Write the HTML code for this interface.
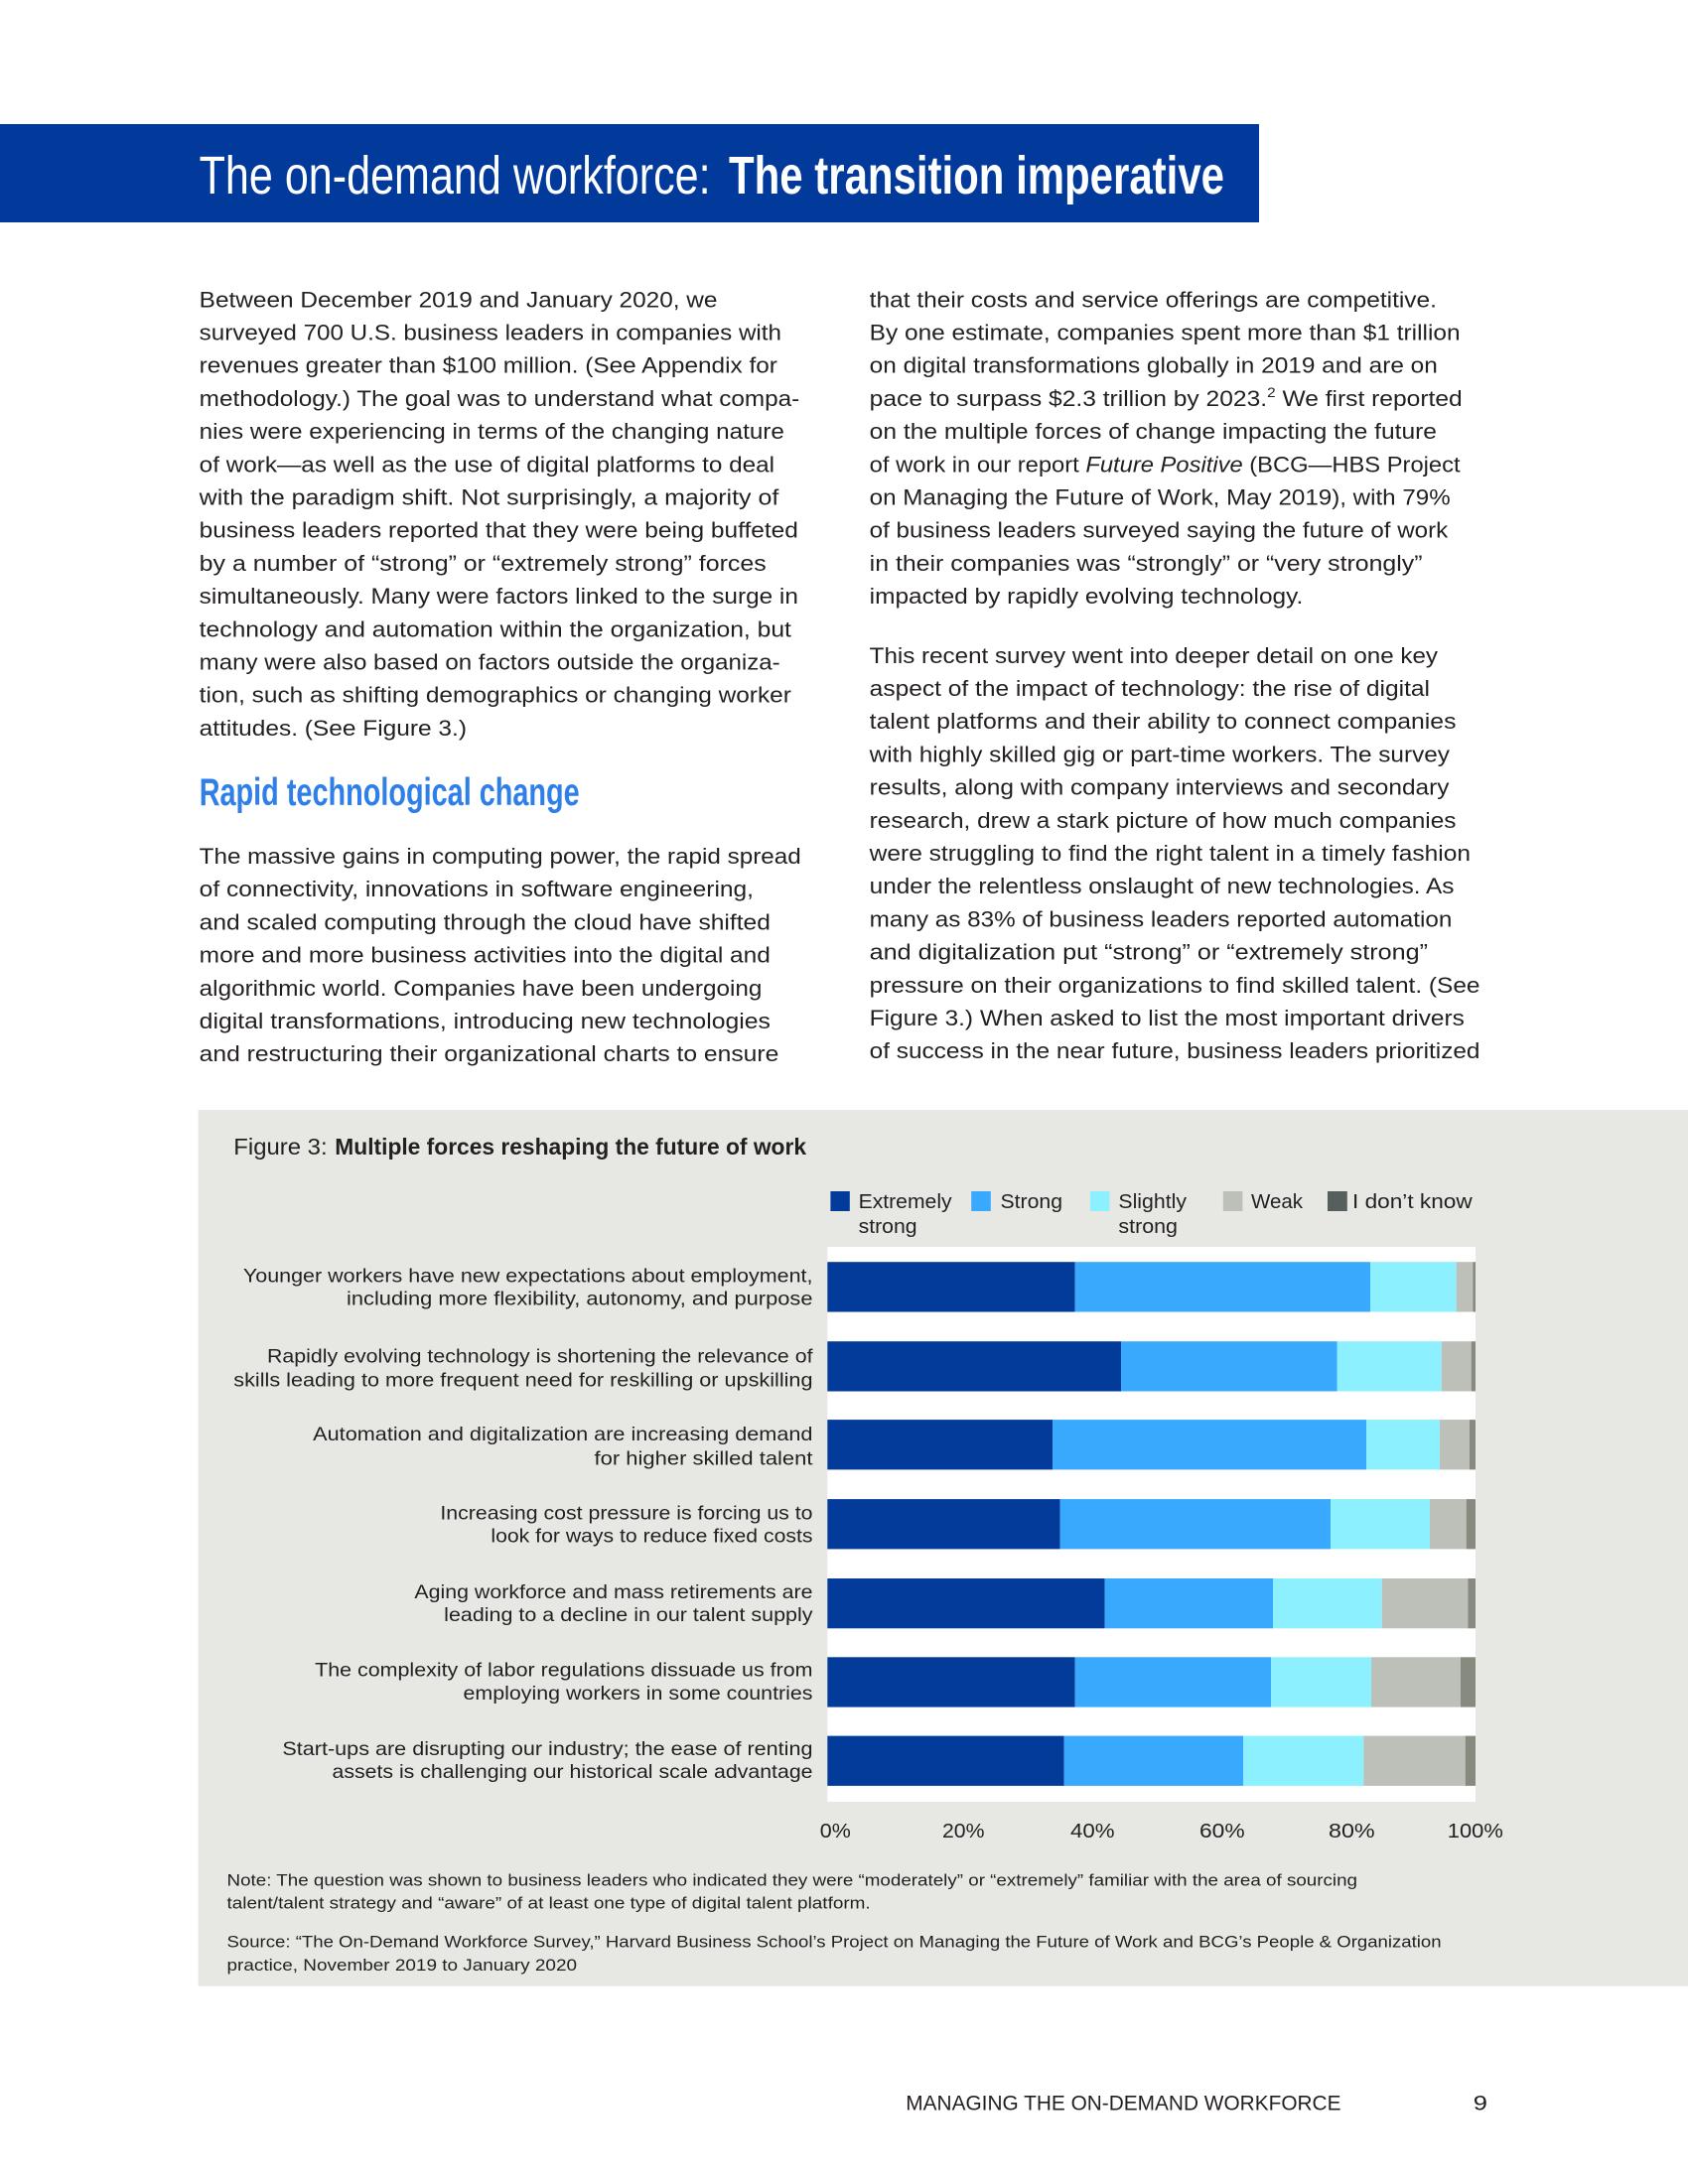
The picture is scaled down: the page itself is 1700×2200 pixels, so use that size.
<!DOCTYPE html>
<html>
<head>
<meta charset="utf-8">
<style>
html,body{margin:0;padding:0;background:#fff;}
svg{display:block;}
.b{font-family:"Liberation Sans",sans-serif;font-size:22.5px;fill:#231f20;}
.c{font-family:"Liberation Sans Narrow","Liberation Sans",sans-serif;fill:#231f20;}
</style>
</head>
<body>
<svg width="1700" height="2200" viewBox="0 0 1700 2200" xmlns="http://www.w3.org/2000/svg">
<rect x="0" y="0" width="1700" height="2200" fill="#ffffff"/>

<!-- Title band -->
<rect x="0" y="125" width="1268" height="99" fill="#023a9c"/>
<text class="c" x="200.6" y="195" font-size="54" fill="#ffffff" style="fill:#fff" textLength="515" lengthAdjust="spacingAndGlyphs">The on-demand workforce:</text>
<text class="c" x="734" y="195" font-size="54" font-weight="bold" style="fill:#fff" textLength="499" lengthAdjust="spacingAndGlyphs">The transition imperative</text>

<!-- Left column paragraph 1 -->
<g class="b">
<text x="200.7" y="309.3" textLength="521.8" lengthAdjust="spacingAndGlyphs">Between December 2019 and January 2020, we</text>
<text x="200.7" y="342.5" textLength="586.3" lengthAdjust="spacingAndGlyphs">surveyed 700 U.S. business leaders in companies with</text>
<text x="200.7" y="375.7" textLength="582.2" lengthAdjust="spacingAndGlyphs">revenues greater than $100 million. (See Appendix for</text>
<text x="200.7" y="408.9" textLength="604.6" lengthAdjust="spacingAndGlyphs">methodology.) The goal was to understand what compa-</text>
<text x="200.7" y="442.1" textLength="589.2" lengthAdjust="spacingAndGlyphs">nies were experiencing in terms of the changing nature</text>
<text x="200.7" y="475.3" textLength="579.4" lengthAdjust="spacingAndGlyphs">of work—as well as the use of digital platforms to deal</text>
<text x="200.7" y="508.5" textLength="583.6" lengthAdjust="spacingAndGlyphs">with the paradigm shift. Not surprisingly, a majority of</text>
<text x="200.7" y="541.7" textLength="603.2" lengthAdjust="spacingAndGlyphs">business leaders reported that they were being buffeted</text>
<text x="200.7" y="574.9" textLength="571" lengthAdjust="spacingAndGlyphs">by a number of “strong” or “extremely strong” forces</text>
<text x="200.7" y="608.1" textLength="603.2" lengthAdjust="spacingAndGlyphs">simultaneously. Many were factors linked to the surge in</text>
<text x="200.7" y="641.3" textLength="596.2" lengthAdjust="spacingAndGlyphs">technology and automation within the organization, but</text>
<text x="200.7" y="674.5" textLength="585" lengthAdjust="spacingAndGlyphs">many were also based on factors outside the organiza-</text>
<text x="200.7" y="707.7" textLength="596.2" lengthAdjust="spacingAndGlyphs">tion, such as shifting demographics or changing worker</text>
<text x="200.7" y="740.9" textLength="269.3" lengthAdjust="spacingAndGlyphs">attitudes. (See Figure 3.)</text>
</g>

<!-- Heading -->
<text class="c" x="200.7" y="811" font-size="38.5" font-weight="bold" style="fill:#2f7fe8" textLength="383" lengthAdjust="spacingAndGlyphs">Rapid technological change</text>

<!-- Left column paragraph 2 -->
<g class="b">
<text x="200.7" y="870" textLength="606" lengthAdjust="spacingAndGlyphs">The massive gains in computing power, the rapid spread</text>
<text x="200.7" y="903.2" textLength="558.3" lengthAdjust="spacingAndGlyphs">of connectivity, innovations in software engineering,</text>
<text x="200.7" y="936.4" textLength="575.2" lengthAdjust="spacingAndGlyphs">and scaled computing through the cloud have shifted</text>
<text x="200.7" y="969.6" textLength="575.2" lengthAdjust="spacingAndGlyphs">more and more business activities into the digital and</text>
<text x="200.7" y="1002.8" textLength="566.7" lengthAdjust="spacingAndGlyphs">algorithmic world. Companies have been undergoing</text>
<text x="200.7" y="1036" textLength="575.2" lengthAdjust="spacingAndGlyphs">digital transformations, introducing new technologies</text>
<text x="200.7" y="1069.2" textLength="583.6" lengthAdjust="spacingAndGlyphs">and restructuring their organizational charts to ensure</text>
</g>

<!-- Right column paragraph 1 -->
<g class="b">
<text x="875.7" y="309.3" textLength="571.3" lengthAdjust="spacingAndGlyphs">that their costs and service offerings are competitive.</text>
<text x="875.7" y="342.5" textLength="594.9" lengthAdjust="spacingAndGlyphs">By one estimate, companies spent more than $1 trillion</text>
<text x="875.7" y="375.7" textLength="572.1" lengthAdjust="spacingAndGlyphs">on digital transformations globally in 2019 and are on</text>
<text x="875.7" y="408.9" textLength="597" lengthAdjust="spacingAndGlyphs">pace to surpass $2.3 trillion by 2023.<tspan font-size="14" dy="-9">2</tspan><tspan dy="9"> We first reported</tspan></text>
<text x="875.7" y="442.1" textLength="571.3" lengthAdjust="spacingAndGlyphs">on the multiple forces of change impacting the future</text>
<text x="875.7" y="475.3" textLength="594.9" lengthAdjust="spacingAndGlyphs">of work in our report <tspan font-style="italic">Future Positive</tspan> (BCG—HBS Project</text>
<text x="875.7" y="508.5" textLength="585" lengthAdjust="spacingAndGlyphs">on Managing the Future of Work, May 2019), with 79%</text>
<text x="875.7" y="541.7" textLength="582.5" lengthAdjust="spacingAndGlyphs">of business leaders surveyed saying the future of work</text>
<text x="875.7" y="574.9" textLength="556.8" lengthAdjust="spacingAndGlyphs">in their companies was “strongly” or “very strongly”</text>
<text x="875.7" y="608.1" textLength="436.6" lengthAdjust="spacingAndGlyphs">impacted by rapidly evolving technology.</text>
</g>

<!-- Right column paragraph 2 -->
<g class="b">
<text x="875.7" y="667.8" textLength="572.3" lengthAdjust="spacingAndGlyphs">This recent survey went into deeper detail on one key</text>
<text x="875.7" y="701" textLength="564.3" lengthAdjust="spacingAndGlyphs">aspect of the impact of technology: the rise of digital</text>
<text x="875.7" y="734.2" textLength="590.8" lengthAdjust="spacingAndGlyphs">talent platforms and their ability to connect companies</text>
<text x="875.7" y="767.4" textLength="584.3" lengthAdjust="spacingAndGlyphs">with highly skilled gig or part-time workers. The survey</text>
<text x="875.7" y="800.6" textLength="583.8" lengthAdjust="spacingAndGlyphs">results, along with company interviews and secondary</text>
<text x="875.7" y="833.8" textLength="590.8" lengthAdjust="spacingAndGlyphs">research, drew a stark picture of how much companies</text>
<text x="875.7" y="867" textLength="605.3" lengthAdjust="spacingAndGlyphs">were struggling to find the right talent in a timely fashion</text>
<text x="875.7" y="900.2" textLength="588.7" lengthAdjust="spacingAndGlyphs">under the relentless onslaught of new technologies. As</text>
<text x="875.7" y="933.4" textLength="586.7" lengthAdjust="spacingAndGlyphs">many as 83% of business leaders reported automation</text>
<text x="875.7" y="966.6" textLength="562.3" lengthAdjust="spacingAndGlyphs">and digitalization put “strong” or “extremely strong”</text>
<text x="875.7" y="999.8" textLength="614.8" lengthAdjust="spacingAndGlyphs">pressure on their organizations to find skilled talent. (See</text>
<text x="875.7" y="1033" textLength="599.1" lengthAdjust="spacingAndGlyphs">Figure 3.) When asked to list the most important drivers</text>
<text x="875.7" y="1066.2" textLength="614.8" lengthAdjust="spacingAndGlyphs">of success in the near future, business leaders prioritized</text>
</g>

<!-- Figure panel -->
<rect x="199.6" y="1118" width="1500.4" height="882.7" fill="#e7e8e3"/>
<text class="c" x="235.3" y="1163" font-size="23" textLength="94.3" lengthAdjust="spacingAndGlyphs">Figure 3:</text>
<text class="c" x="337.3" y="1163" font-size="23" font-weight="bold" textLength="474.7" lengthAdjust="spacingAndGlyphs">Multiple forces reshaping the future of work</text>

<!-- Legend -->
<rect x="836.4" y="1200" width="19.4" height="20" fill="#033b9a"/>
<rect x="978.2" y="1200" width="19.6" height="20" fill="#38a9fd"/>
<rect x="1097.9" y="1200" width="19.6" height="20" fill="#8cf0fe"/>
<rect x="1231.8" y="1200" width="19.6" height="20" fill="#bcc0b8"/>
<rect x="1337" y="1200" width="19.8" height="20" fill="#565f5e"/>
<g class="c" font-size="20">
<text x="864.6" y="1217" textLength="94" lengthAdjust="spacingAndGlyphs">Extremely</text>
<text x="864.6" y="1242" textLength="59" lengthAdjust="spacingAndGlyphs">strong</text>
<text x="1007.5" y="1217" textLength="62.5" lengthAdjust="spacingAndGlyphs">Strong</text>
<text x="1126.4" y="1217" textLength="68.6" lengthAdjust="spacingAndGlyphs">Slightly</text>
<text x="1126.4" y="1242" textLength="59.6" lengthAdjust="spacingAndGlyphs">strong</text>
<text x="1260" y="1217" textLength="52" lengthAdjust="spacingAndGlyphs">Weak</text>
<text x="1362" y="1217" textLength="120.7" lengthAdjust="spacingAndGlyphs">I don’t know</text>
</g>

<!-- Plot area -->
<rect x="833.3" y="1256" width="652.7" height="559" fill="#ffffff"/>

<!-- Bars -->
<g>
<!-- bar 1 -->
<rect x="833.3" y="1271.2" width="249.4" height="50.3" fill="#033b9a"/>
<rect x="1082.7" y="1271.2" width="297.3" height="50.3" fill="#38a9fd"/>
<rect x="1380" y="1271.2" width="86.7" height="50.3" fill="#8cf0fe"/>
<rect x="1466.7" y="1271.2" width="16.6" height="50.3" fill="#bcc0b8"/>
<rect x="1483.3" y="1271.2" width="2.7" height="50.3" fill="#868a7f"/>
<!-- bar 2 -->
<rect x="833.3" y="1351.2" width="295.7" height="50.3" fill="#033b9a"/>
<rect x="1129" y="1351.2" width="217.7" height="50.3" fill="#38a9fd"/>
<rect x="1346.7" y="1351.2" width="105" height="50.3" fill="#8cf0fe"/>
<rect x="1451.7" y="1351.2" width="30" height="50.3" fill="#bcc0b8"/>
<rect x="1481.7" y="1351.2" width="4.3" height="50.3" fill="#868a7f"/>
<!-- bar 3 -->
<rect x="833.3" y="1430.1" width="226.7" height="50.3" fill="#033b9a"/>
<rect x="1060" y="1430.1" width="316" height="50.3" fill="#38a9fd"/>
<rect x="1376" y="1430.1" width="74" height="50.3" fill="#8cf0fe"/>
<rect x="1450" y="1430.1" width="30" height="50.3" fill="#bcc0b8"/>
<rect x="1480" y="1430.1" width="6" height="50.3" fill="#868a7f"/>
<!-- bar 4 -->
<rect x="833.3" y="1510.1" width="234.4" height="50.3" fill="#033b9a"/>
<rect x="1067.7" y="1510.1" width="272.3" height="50.3" fill="#38a9fd"/>
<rect x="1340" y="1510.1" width="100" height="50.3" fill="#8cf0fe"/>
<rect x="1440" y="1510.1" width="36.7" height="50.3" fill="#bcc0b8"/>
<rect x="1476.7" y="1510.1" width="9.3" height="50.3" fill="#868a7f"/>
<!-- bar 5 -->
<rect x="833.3" y="1590" width="279.4" height="50.3" fill="#033b9a"/>
<rect x="1112.7" y="1590" width="169.3" height="50.3" fill="#38a9fd"/>
<rect x="1282" y="1590" width="109.7" height="50.3" fill="#8cf0fe"/>
<rect x="1391.7" y="1590" width="86.6" height="50.3" fill="#bcc0b8"/>
<rect x="1478.3" y="1590" width="7.7" height="50.3" fill="#868a7f"/>
<!-- bar 6 -->
<rect x="833.3" y="1669.3" width="249.4" height="50.3" fill="#033b9a"/>
<rect x="1082.7" y="1669.3" width="197.3" height="50.3" fill="#38a9fd"/>
<rect x="1280" y="1669.3" width="101" height="50.3" fill="#8cf0fe"/>
<rect x="1381" y="1669.3" width="90" height="50.3" fill="#bcc0b8"/>
<rect x="1471" y="1669.3" width="15" height="50.3" fill="#868a7f"/>
<!-- bar 7 -->
<rect x="833.3" y="1748.6" width="238.4" height="50.3" fill="#033b9a"/>
<rect x="1071.7" y="1748.6" width="180.5" height="50.3" fill="#38a9fd"/>
<rect x="1252.2" y="1748.6" width="121.1" height="50.3" fill="#8cf0fe"/>
<rect x="1373.3" y="1748.6" width="102.4" height="50.3" fill="#bcc0b8"/>
<rect x="1475.7" y="1748.6" width="10.3" height="50.3" fill="#868a7f"/>
</g>

<!-- Bar labels -->
<g class="c" font-size="19.5">
<text x="244.9" y="1291.5" textLength="573.6" lengthAdjust="spacingAndGlyphs">Younger workers have new expectations about employment,</text>
<text x="349" y="1314.5" textLength="469.5" lengthAdjust="spacingAndGlyphs">including more flexibility, autonomy, and purpose</text>
<text x="269" y="1372.5" textLength="549.5" lengthAdjust="spacingAndGlyphs">Rapidly evolving technology is shortening the relevance of</text>
<text x="235.3" y="1396.5" textLength="583.2" lengthAdjust="spacingAndGlyphs">skills leading to more frequent need for reskilling or upskilling</text>
<text x="315.2" y="1451" textLength="503.3" lengthAdjust="spacingAndGlyphs">Automation and digitalization are increasing demand</text>
<text x="598.5" y="1475.5" textLength="220" lengthAdjust="spacingAndGlyphs">for higher skilled talent</text>
<text x="443.4" y="1530.5" textLength="375.1" lengthAdjust="spacingAndGlyphs">Increasing cost pressure is forcing us to</text>
<text x="494.4" y="1553.5" textLength="324.1" lengthAdjust="spacingAndGlyphs">look for ways to reduce fixed costs</text>
<text x="417.4" y="1610" textLength="401.1" lengthAdjust="spacingAndGlyphs">Aging workforce and mass retirements are</text>
<text x="447.2" y="1633" textLength="371.3" lengthAdjust="spacingAndGlyphs">leading to a decline in our talent supply</text>
<text x="317.2" y="1688.5" textLength="501.3" lengthAdjust="spacingAndGlyphs">The complexity of labor regulations dissuade us from</text>
<text x="466.5" y="1712" textLength="352" lengthAdjust="spacingAndGlyphs">employing workers in some countries</text>
<text x="284.4" y="1767.8" textLength="534.1" lengthAdjust="spacingAndGlyphs">Start-ups are disrupting our industry; the ease of renting</text>
<text x="334.5" y="1790.8" textLength="484" lengthAdjust="spacingAndGlyphs">assets is challenging our historical scale advantage</text>
</g>

<!-- Axis labels -->
<g class="c" font-size="20">
<text x="825.8" y="1851" textLength="31" lengthAdjust="spacingAndGlyphs">0%</text>
<text x="949" y="1851" textLength="42.5" lengthAdjust="spacingAndGlyphs">20%</text>
<text x="1078" y="1851" textLength="44.5" lengthAdjust="spacingAndGlyphs">40%</text>
<text x="1208" y="1851" textLength="45.6" lengthAdjust="spacingAndGlyphs">60%</text>
<text x="1338" y="1851" textLength="46.6" lengthAdjust="spacingAndGlyphs">80%</text>
<text x="1457.8" y="1851" textLength="56" lengthAdjust="spacingAndGlyphs">100%</text>
</g>

<!-- Notes -->
<g class="c" font-size="16.5">
<text x="228.5" y="1899.3" textLength="1138.5" lengthAdjust="spacingAndGlyphs">Note: The question was shown to business leaders who indicated they were “moderately” or “extremely” familiar with the area of sourcing</text>
<text x="228.5" y="1922.3" textLength="648.2" lengthAdjust="spacingAndGlyphs">talent/talent strategy and “aware” of at least one type of digital talent platform.</text>
<text x="228.5" y="1961.7" textLength="1223.1" lengthAdjust="spacingAndGlyphs">Source: “The On-Demand Workforce Survey,” Harvard Business School’s Project on Managing the Future of Work and BCG’s People &amp; Organization</text>
<text x="228.5" y="1985" textLength="352.5" lengthAdjust="spacingAndGlyphs">practice, November 2019 to January 2020</text>
</g>

<!-- Footer -->
<text class="c" x="912.3" y="2125.7" font-size="21.5" textLength="438.2" lengthAdjust="spacingAndGlyphs">MANAGING THE ON-DEMAND WORKFORCE</text>
<text class="c" x="1483.8" y="2125.7" font-size="21.5" textLength="14.2" lengthAdjust="spacingAndGlyphs">9</text>
</svg>
</body>
</html>
